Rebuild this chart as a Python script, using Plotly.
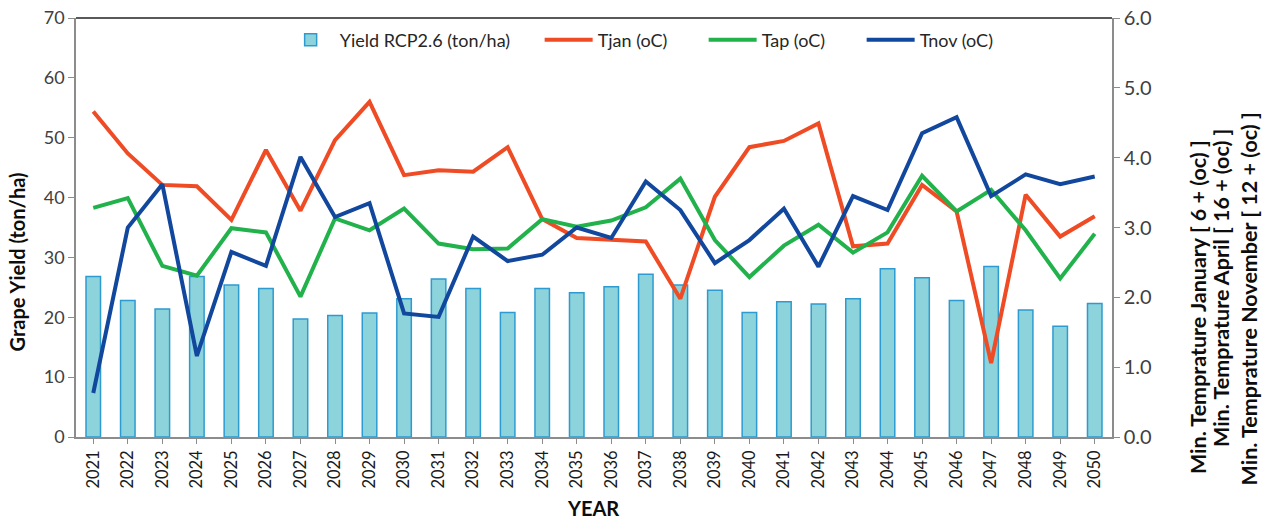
import plotly.graph_objects as go

years = [str(y) for y in range(2021, 2051)]

yield_rcp26 = [26.8, 22.8, 21.4, 26.8, 25.4, 24.8, 19.7, 20.3, 20.7, 23.1,
               26.4, 24.8, 20.8, 24.8, 24.1, 25.1, 27.2, 25.4, 24.5, 20.8,
               22.6, 22.2, 23.1, 28.1, 26.6, 22.8, 28.5, 21.2, 18.5, 22.3]

t_jan = [4.66, 4.06, 3.61, 3.59, 3.11, 4.11, 3.24, 4.25, 4.80, 3.75,
         3.82, 3.80, 4.15, 3.12, 2.85, 2.83, 2.80, 1.98, 3.44, 4.15,
         4.24, 4.49, 2.73, 2.77, 3.61, 3.23, 1.06, 3.47, 2.87, 3.16]

t_apr = [3.28, 3.42, 2.45, 2.31, 2.99, 2.93, 2.01, 3.13, 2.96, 3.27,
         2.77, 2.69, 2.70, 3.12, 3.01, 3.10, 3.29, 3.70, 2.82, 2.29,
         2.74, 3.04, 2.64, 2.93, 3.74, 3.23, 3.54, 2.96, 2.27, 2.91]

t_nov = [0.63, 3.00, 3.62, 1.16, 2.65, 2.45, 4.01, 3.15, 3.35, 1.77,
         1.72, 2.87, 2.52, 2.61, 3.00, 2.85, 3.66, 3.25, 2.49, 2.82,
         3.27, 2.44, 3.45, 3.25, 4.35, 4.58, 3.45, 3.76, 3.62, 3.73]

FONT = "Lato, 'Open Sans', sans-serif"
AX = "#8c8c8c"
TXT = "#404040"
TITLE = "#0d0d0d"

fig = go.Figure()
fig.add_trace(go.Bar(x=years, y=yield_rcp26, name="Yield RCP2.6 (ton/ha)",
                     marker=dict(color="#8DD3DB", line=dict(color="#2E9BD0", width=1.5)),
                     width=0.42, legendwidth=195))
fig.add_trace(go.Scatter(x=years, y=t_jan, name="Tjan (oC)", mode="lines", yaxis="y2",
                         line=dict(color="#EF4B24", width=4), legendwidth=101))
fig.add_trace(go.Scatter(x=years, y=t_apr, name="Tap (oC)", mode="lines", yaxis="y2",
                         line=dict(color="#22B24C", width=4), legendwidth=95))
fig.add_trace(go.Scatter(x=years, y=t_nov, name="Tnov (oC)", mode="lines", yaxis="y2",
                         line=dict(color="#12479E", width=4), legendwidth=95))

fig.update_layout(
    width=1269, height=521,
    margin=dict(l=76, r=157, t=18, b=84, autoexpand=False),
    paper_bgcolor="white", plot_bgcolor="white",
    font=dict(family=FONT, size=16, color=TXT),
    showlegend=True,
    legend=dict(orientation="h", x=0.1985, xanchor="left", y=0.9475, yanchor="middle",
                itemwidth=48, font=dict(size=18, color="#262626"),
                bgcolor="rgba(0,0,0,0)"),
    xaxis=dict(type="category", range=[-0.5, 29.5], showline=True, linecolor=AX, linewidth=1.5,
               ticks="outside", ticklen=5, tickcolor=AX, tickangle=-90, showgrid=False,
               automargin=False, tickfont=dict(size=16.5, color="#1a1a1a")),
    yaxis=dict(range=[0, 70], dtick=10, showline=True, linecolor=AX, linewidth=1.5,
               ticks="outside", ticklen=6, tickcolor=AX, showgrid=False, zeroline=False,
               automargin=False, tickfont=dict(size=18, color=TXT)),
    yaxis2=dict(range=[0, 6], dtick=1, tickformat=".1f", overlaying="y", side="right",
                showline=True, linecolor=AX, linewidth=1.5, ticks="outside", ticklen=6,
                tickcolor=AX, showgrid=False, zeroline=False, automargin=False,
                tickfont=dict(size=20, color=TXT)),
)

fig.add_shape(type="line", xref="paper", yref="paper", x0=0, x1=1, y0=1, y1=1,
              line=dict(color="#222222", width=1.5))

ann = [
    dict(text="<b>Grape Yield (ton/ha)</b>", x=-0.0565, y=0.4177, textangle=-90, size=20),
    dict(text="<b>YEAR</b>", x=0.499, y=-0.1695, textangle=0, size=20),
    dict(text="<b>Min. Temprature January [ 6 + (oc) ]</b>", x=1.083, y=0.31, textangle=-90, size=21.5),
    dict(text="<b>Min. Temprature April [ 16 + (oc) ]</b>", x=1.105, y=0.355, textangle=-90, size=21.5),
    dict(text="<b>Min. Temprature November [ 12 + (oc) ]</b>", x=1.132, y=0.33, textangle=-90, size=21.5),
]
for a in ann:
    fig.add_annotation(text=a["text"], x=a["x"], y=a["y"], xref="paper", yref="paper",
                       xanchor="center", yanchor="middle", textangle=a["textangle"],
                       showarrow=False, font=dict(size=a["size"], color=TITLE, family=FONT))

fig.write_html("out.html", config={"displayModeBar": False},
               post_script="document.body.style.margin='0px';")
